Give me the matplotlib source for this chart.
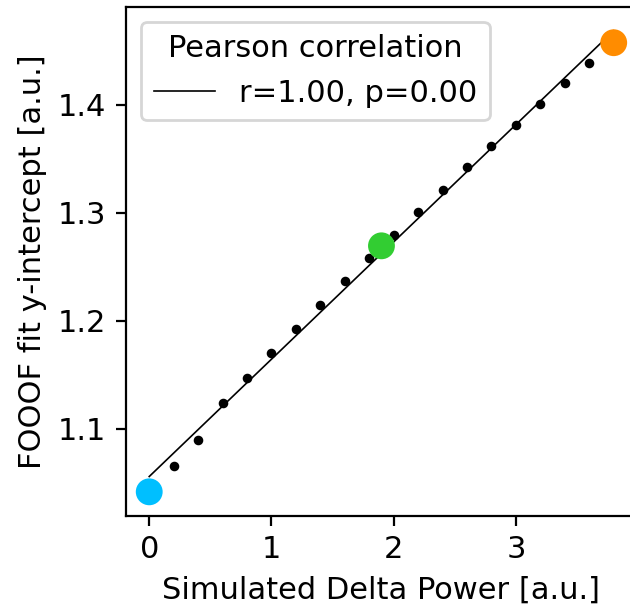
import numpy as np
import matplotlib
matplotlib.use("Agg")
import matplotlib.pyplot as plt

# simulated delta power and fitted FOOOF y-intercepts
delta_power = [0.0, 0.2, 0.4, 0.6, 0.8, 1.0, 1.2, 1.4, 1.6, 1.8,
               2.0, 2.2, 2.4, 2.6, 2.8, 3.0, 3.2, 3.4, 3.6, 3.8]
intercept = [1.0417, 1.0657, 1.0895, 1.124, 1.1472, 1.170, 1.1926, 1.2148, 1.2368, 1.2583,
             1.2796, 1.3003, 1.3213, 1.342, 1.3614, 1.3812, 1.4006, 1.4201, 1.4389, 1.4574]

# highlighted example conditions
highlight_x = [0.0, 1.9, 3.8]
highlight_y = [1.0417, 1.2694, 1.4574]
highlight_colors = ["deepskyblue", "limegreen", "darkorange"]

r_value = 1.00
p_value = 0.00

plt.rcParams["font.size"] = 11

fig = plt.figure(figsize=(3.15, 3.06), dpi=200)
ax = fig.add_axes([0.2, 0.157, 0.811, 0.832])

slope, offset = np.polyfit(delta_power, intercept, 1)
fit_x = np.array([min(delta_power), max(delta_power)])
ax.plot(fit_x, slope * fit_x + offset, color="black", linewidth=0.6,
        label=f"r={r_value:.2f}, p={p_value:.2f}")
ax.scatter(delta_power, intercept, s=6, color="black", zorder=3)
ax.scatter(highlight_x, highlight_y, s=75, c=highlight_colors, zorder=4)

ax.set_xlim(-0.19, 3.99)
ax.set_ylim(1.0194, 1.4907)
ax.set_xticks([0, 1, 2, 3])
ax.set_yticks([1.1, 1.2, 1.3, 1.4])
ax.set_xlabel("Simulated Delta Power [a.u.]")
ax.set_ylabel("FOOOF fit y-intercept [a.u.]")
ax.spines["right"].set_visible(False)
ax.legend(title="Pearson correlation", loc="upper left")

fig.savefig("out.png", dpi=200)
